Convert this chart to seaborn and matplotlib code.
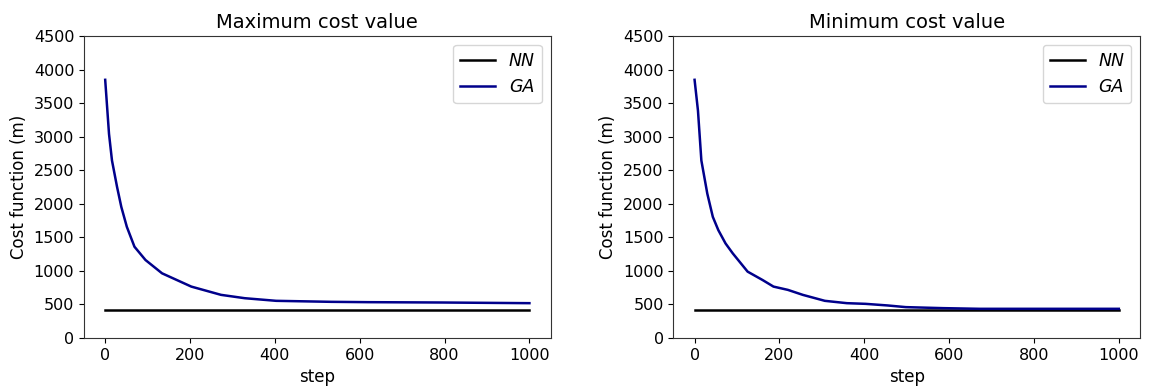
import matplotlib
matplotlib.use("Agg")
import matplotlib.pyplot as plt
import seaborn as sns

# ---- data ----
nn_steps = [0, 1000]
nn_max = [420, 420]
nn_min = [415, 415]

ga_max_steps = [0, 9, 16, 28, 38, 51, 69, 95, 134, 203, 273, 329, 403, 533, 620, 793, 1000]
ga_max_vals = [3847, 3041, 2645, 2250, 1953, 1657, 1360, 1162, 964, 766, 643, 593, 554, 539, 534, 529, 519]

ga_min_steps = [0, 8, 16, 30, 43, 56, 73, 90, 125, 160, 186, 220, 255, 307, 359, 403, 455, 498, 585, 672, 1000]
ga_min_vals = [3847, 3387, 2645, 2151, 1805, 1607, 1409, 1261, 989, 865, 766, 717, 643, 554, 519, 509, 485, 460, 445, 435, 435]

titles = ["Maximum cost value", "Minimum cost value"]
yticks = [0, 500, 1000, 1500, 2000, 2500, 3000, 3500, 4000, 4500]
xticks = [0, 200, 400, 600, 800, 1000]

plt.rcParams['font.family'] = ['DejaVu Sans']

fig, axes = plt.subplots(1, 2, figsize=(11.52, 3.87), dpi=100)
fig.subplots_adjust(left=0.0729, right=0.9896, top=0.907, bottom=0.1266, wspace=0.263)

panels = [
    (nn_max, ga_max_steps, ga_max_vals),
    (nn_min, ga_min_steps, ga_min_vals),
]

for ax, title, (nn_vals, gs, gv) in zip(axes, titles, panels):
    sns.lineplot(x=nn_steps, y=nn_vals, ax=ax, color="black", linewidth=1.8, label="NN")
    sns.lineplot(x=gs, y=gv, ax=ax, color="#00008B", linewidth=1.8, label="GA")
    ax.set_ylim(0, 4500)
    ax.set_xlim(-50, 1050)
    ax.set_yticks(yticks)
    ax.set_xticks(xticks)
    ax.tick_params(labelsize=11.5)
    ax.set_title(title, fontsize=14)
    ax.set_xlabel("step", fontsize=12)
    ax.set_ylabel("Cost function (m)", fontsize=12)
    for s in ax.spines.values():
        s.set_color("#333333")
    ax.legend(loc="upper right", prop={'style': 'italic', 'size': 12.5})

fig.savefig("out.png", dpi=100)
